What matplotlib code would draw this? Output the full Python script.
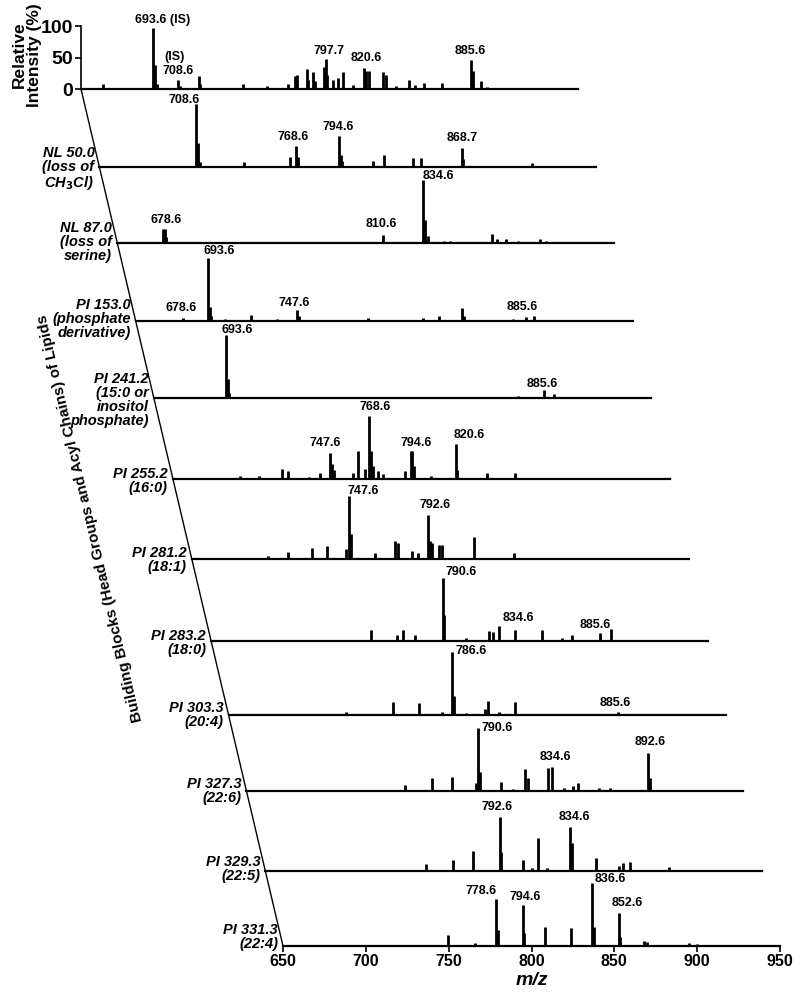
import matplotlib.pyplot as plt
from matplotlib.patches import ConnectionPatch

plt.rcParams['font.family'] = ['Liberation Sans', 'DejaVu Sans']
plt.rcParams['font.weight'] = 'bold'

# ---- data: peak lists (m/z, relative intensity %) ----
is_mz = [663.4, 693.6, 694.6, 695.6, 708.6, 709.6, 721.1, 722.1, 747.7, 762.4, 774.9, 779.0,
         780.5, 786.3, 787.3, 790.0, 791.0, 796.5, 797.7, 798.7, 802.0, 805.0, 808.0, 814.0,
         820.6, 822.0, 824.0, 832.0, 834.0, 840.0, 848.0, 851.6, 857.0, 867.9, 885.6, 886.6,
         891.6, 895.0, 920.0]
is_int = [8, 98, 38, 8, 14, 5, 20, 8, 8, 5, 8, 21,
          23, 32, 15, 27, 12, 35, 48, 22, 15, 17, 27, 7,
          33, 28, 28, 27, 22, 5, 15, 7, 10, 10, 47, 28,
          13, 3, 2]

nl50_mz = [708.6, 709.6, 710.6, 737.1, 765.2, 768.6, 769.6, 794.6, 795.6, 796.6, 815.4, 821.5,
           839.5, 844.0, 868.7, 869.7, 911.0]
nl50_int = [100, 38, 8, 8, 16, 34, 16, 50, 19, 10, 9, 19, 14, 14, 31, 12, 6]

nl87_mz = [677.6, 678.6, 679.6, 760.0, 788.0, 810.6, 834.6, 835.6, 837.6, 847.4, 851.0, 876.4,
           879.0, 884.7, 892.0, 905.0, 908.6]
nl87_int = [22, 22, 10, 2, 2, 13, 100, 37, 11, 3, 3, 15, 7, 6, 3, 6, 3]

pi153_mz = [678.6, 693.6, 694.6, 695.6, 703.8, 719.6, 735.5, 747.6, 748.6, 790.0, 823.3, 833.3,
            847.0, 848.0, 856.0, 877.5, 885.6, 890.5]
pi153_int = [4, 100, 22, 8, 3, 10, 3, 17, 8, 5, 4, 8, 20, 8, 2, 3, 6, 8]

pi241_mz = [693.6, 694.6, 695.6, 721.0, 748.0, 869.6, 885.6, 891.7]
pi241_int = [100, 30, 8, 2, 2, 3, 12, 7]

pi255_mz = [661.3, 690.4, 702.0, 716.0, 719.7, 732.0, 738.6, 745.0, 746.0, 747.2, 758.7, 761.7,
            765.7, 768.6, 769.6, 770.6, 773.5, 776.6, 789.8, 793.6, 794.6, 795.6, 806.0, 820.6,
            821.6, 839.4, 856.7]
pi255_int = [1, 4, 5, 16, 13, 3, 10, 42, 24, 15, 10, 45,
             16, 100, 44, 20, 12, 8, 13, 44, 44, 20, 5, 56,
             15, 10, 9]

pi2812_mz = [696.2, 707.9, 722.3, 731.4, 743.0, 745.0, 746.2, 760.3, 772.7, 774.5, 782.8, 786.4,
             792.6, 793.6, 794.8, 799.5, 801.0, 820.6, 844.7]
pi2812_int = [4, 11, 18, 20, 16, 100, 40, 10, 28, 25, 12, 10, 70, 29, 25, 22, 22, 35, 9]

pi2832_mz = [722.9, 746.6, 762.0, 765.7, 773.3, 789.8, 790.8, 803.9, 817.9, 820.0, 824.0, 833.6,
             849.6, 862.0, 867.7, 884.6, 891.2, 911.3]
pi2832_int = [2, 17, 9, 18, 9, 100, 42, 5, 16, 15, 24, 17, 17, 4, 10, 12, 19, 2]

pi303_mz = [721.0, 736.7, 749.2, 764.9, 779.0, 785.0, 786.0, 793.4, 805.0, 806.6, 813.0, 822.7,
            842.0, 855.6, 885.0]
pi303_int = [4, 2, 20, 19, 4, 100, 30, 3, 10, 23, 4, 21, 2, 2, 4]

pi327_mz = [745.5, 761.7, 773.8, 788.8, 789.7, 790.7, 803.7, 810.7, 818.4, 820.0, 831.8, 834.6,
            841.9, 846.9, 850.0, 863.0, 869.5, 892.6, 893.6]
pi327_int = [10, 21, 22, 12, 100, 30, 15, 3, 35, 20, 36, 38, 5, 8, 12, 5, 5, 60, 20]

pi329_mz = [747.2, 763.4, 775.5, 791.4, 792.4, 805.3, 811.0, 814.8, 819.8, 834.0, 835.2, 849.8,
            863.7, 866.0, 870.4, 893.8]
pi329_int = [11, 17, 32, 87, 30, 18, 4, 53, 5, 70, 44, 20, 8, 12, 15, 6]

pi331_mz = [749.7, 766.0, 778.6, 779.6, 794.6, 795.6, 808.1, 823.7, 836.6, 837.6, 852.6, 853.6,
            868.0, 870.0, 895.0, 900.0]
pi331_int = [17, 5, 75, 25, 66, 20, 30, 28, 100, 30, 53, 15, 8, 6, 4, 3]

# row names
row_names = ['',
             'NL 50.0\n(loss of\nCH$_\\mathbf{3}$Cl)',
             'NL 87.0\n(loss of\nserine)',
             'PI 153.0\n(phosphate\nderivative)',
             'PI 241.2\n(15:0 or\ninositol\nphosphate)',
             'PI 255.2\n(16:0)',
             'PI 281.2\n(18:1)',
             'PI 283.2\n(18:0)',
             'PI 303.3\n(20:4)',
             'PI 327.3\n(22:6)',
             'PI 329.3\n(22:5)',
             'PI 331.3\n(22:4)']

# peak annotations: (text, m/z position, intensity position)
is_lbl = [('693.6 (IS)', 699.4, 110), ('(IS)', 706.6, 51), ('708.6', 708.4, 29),
          ('797.7', 800.0, 61), ('820.6', 822.0, 49), ('885.6', 884.8, 61)]
nl50_lbl = [('708.6', 701.0, 107), ('768.6', 766.8, 48), ('794.6', 794.1, 64), ('868.7', 868.8, 46)]
nl87_lbl = [('678.6', 679.7, 37), ('810.6', 809.6, 30), ('834.6', 844.0, 107)]
pi153_lbl = [('678.6', 677.7, 20), ('693.6', 700.4, 112), ('747.6', 745.5, 29), ('885.6', 883.5, 23)]
pi241_lbl = [('693.6', 700.5, 109), ('885.6', 884.3, 22)]
pi255_lbl = [('747.6', 742.2, 57), ('768.6', 771.9, 115), ('794.6', 796.9, 57), ('820.6', 828.6, 70)]
pi2812_lbl = [('747.6', 753.3, 109), ('792.6', 797.1, 87)]
pi2832_lbl = [('790.6', 800.8, 111), ('834.6', 835.5, 36), ('885.6', 881.9, 26)]
pi303_lbl = [('786.6', 796.4, 103), ('885.6', 883.3, 19)]
pi327_lbl = [('790.6', 801.1, 100), ('834.6', 836.4, 55), ('892.6', 893.7, 78)]
pi329_lbl = [('792.6', 789.8, 103), ('834.6', 836.8, 86)]
pi331_lbl = [('778.6', 769.3, 88), ('794.6', 796.1, 79), ('836.6', 847.5, 107), ('852.6', 857.5, 69)]

spectra = [(is_mz, is_int, is_lbl), (nl50_mz, nl50_int, nl50_lbl), (nl87_mz, nl87_int, nl87_lbl),
           (pi153_mz, pi153_int, pi153_lbl), (pi241_mz, pi241_int, pi241_lbl),
           (pi255_mz, pi255_int, pi255_lbl), (pi2812_mz, pi2812_int, pi2812_lbl),
           (pi2832_mz, pi2832_int, pi2832_lbl), (pi303_mz, pi303_int, pi303_lbl),
           (pi327_mz, pi327_int, pi327_lbl), (pi329_mz, pi329_int, pi329_lbl),
           (pi331_mz, pi331_int, pi331_lbl)]

# ---- layout (pixels) ----
W, H = 800, 994
baselines = [89, 167, 243, 321, 398, 479, 559, 641, 715, 791, 871, 946]
name_dy = [0, 2, -1, -2, 2, 2, 1, 2, 0, 0, -2, -9]   # vertical nudge of the row names
x_first, x_last = 81, 283
slope = (x_last - x_first) / (baselines[-1] - baselines[0])
span_px = 497
h100 = 62.6

fig = plt.figure(figsize=(W / 100, H / 100), dpi=100)

axes = []
for i, (mz, inten, lbls) in enumerate(spectra):
    b = baselines[i]
    left = x_first + (b - baselines[0]) * slope
    ax = fig.add_axes([left / W, (H - b) / H, span_px / W, h100 / H])
    ax.set_xlim(650, 950)
    ax.set_ylim(0, 100)
    ax.patch.set_visible(False)
    for s in ax.spines.values():
        s.set_visible(False)
    ax.set_xticks([])
    ax.set_yticks([])
    ax.axhline(0, color='black', lw=1.6, clip_on=False)
    ax.vlines(mz, 0, inten, color='black', lw=2.0, clip_on=False)
    for txt, xm, yi in lbls:
        ax.text(xm, yi, txt, ha='center', va='center', fontsize=9, fontweight='bold', clip_on=False)
    if row_names[i]:
        fig.text((left - 5) / W, (H - b - name_dy[i]) / H, row_names[i], ha='right', va='center',
                 multialignment='right', fontsize=10.5, fontweight='bold', style='italic',
                 linespacing=1.0)
    axes.append(ax)

# top axis with intensity scale
ax0 = axes[0]
ax0.spines['left'].set_visible(True)
ax0.spines['left'].set_bounds(0, 100)
ax0.spines['left'].set_linewidth(1.2)
ax0.set_yticks([0, 50, 100])
ax0.tick_params(axis='y', direction='out', length=4, width=1.2, pad=2, labelsize=14)
fig.text(27 / W, (H - 55) / H, 'Relative\nIntensity (%)', rotation=90, ha='center', va='center',
         fontsize=12.5, fontweight='bold', linespacing=1.0)

# bottom axis with m/z scale
axb = axes[-1]
axb.set_xticks([650, 700, 750, 800, 850, 900, 950])
axb.tick_params(axis='x', direction='out', length=4, width=1.2, pad=2, labelsize=11.5)
axb.set_xlabel('m/z', fontsize=14, fontweight='bold', style='italic', labelpad=2)

# slanted frame line and dashed guide line
fig.add_artist(ConnectionPatch(xyA=(650, 0), coordsA='data', axesA=ax0,
                               xyB=(650, 0), coordsB='data', axesB=axb, color='black', lw=1.0))
fig.add_artist(ConnectionPatch(xyA=(885.6, -10), coordsA='data', axesA=ax0,
                               xyB=(885.6, 0), coordsB='data', axesB=axb, color='black', lw=1.0,
                               linestyle=(0, (2.5, 4))))

# side title runs parallel to the slanted frame line
angle = 180 - 76.74
fig.text(90 / W, (H - 518) / H, 'Building Blocks (Head Groups and Acyl Chains) of Lipids',
         rotation=angle, rotation_mode='anchor', ha='center', va='center',
         fontsize=11, fontweight='bold')

fig.savefig('out.png', dpi=100)
